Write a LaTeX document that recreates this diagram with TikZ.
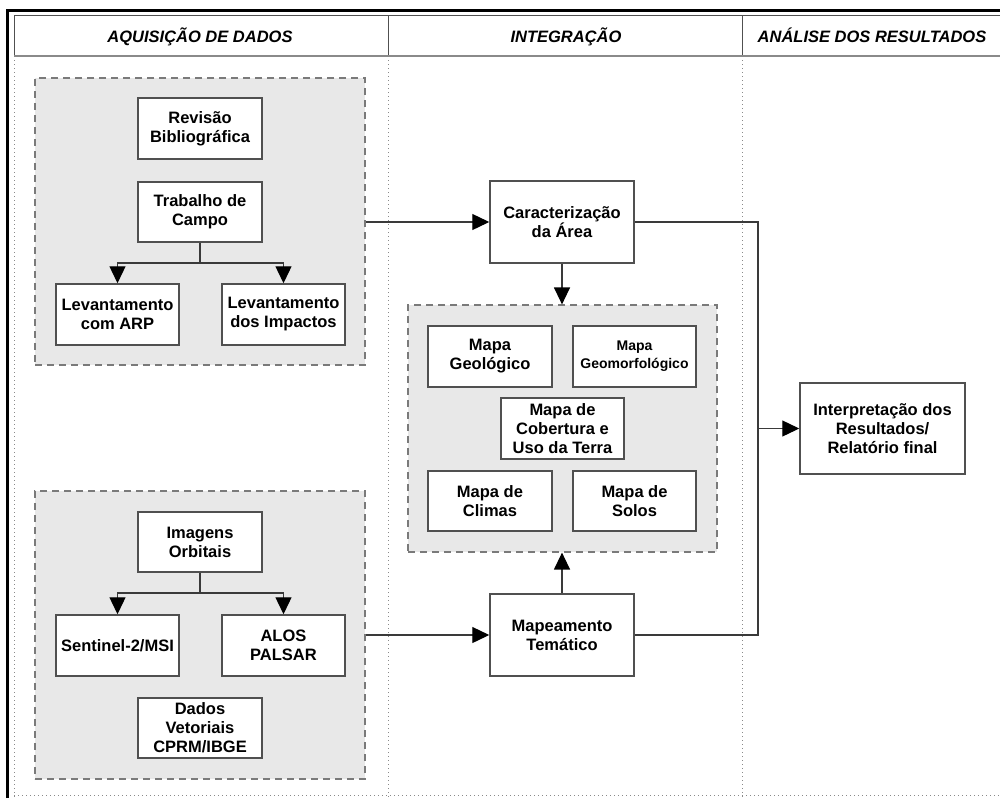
\documentclass[tikz,border=0pt]{standalone}
\usepackage{fontspec}
\setmainfont{Liberation Sans}
\usetikzlibrary{arrows.meta}
\definecolor{grpfill}{HTML}{E8E8E8}
\definecolor{grpline}{HTML}{7A7A7A}
\definecolor{boxline}{HTML}{505050}
\definecolor{conline}{HTML}{3A3A3A}
\definecolor{dotline}{HTML}{8A8A8A}
\newcommand\boxfont{\fontsize{16.5}{19}\selectfont\bfseries}
\newcommand\smallboxfont{\fontsize{14}{18}\selectfont\bfseries}
\newcommand\hdfont{\fontsize{16.5}{19}\selectfont\bfseries\itshape}
\begin{document}
\begin{tikzpicture}[x=1pt,y=-1pt,
  box/.style={draw=boxline, fill=white, line width=1.5pt, align=center, inner sep=0pt, font=\boxfont},
  grp/.style={draw=grpline, fill=grpfill, line width=1.2pt, dash pattern=on 7pt off 5pt, inner sep=0pt},
  wire/.style={draw=conline, line width=1.3pt},
  conn/.style={wire, -{Triangle[length=17pt,width=16pt,color=black]}},
  dotsep/.style={draw=dotline, line width=1pt, dash pattern=on 1pt off 3pt},
  head/.style={font=\hdfont, inner sep=0pt, anchor=base}
]
\useasboundingbox (0,0) rectangle (1000,798);
\fill[white] (0,0) rectangle (1000,798);

% separators (dotted)
\draw[dotsep] (14,56) -- (14,798);
\draw[dotsep] (388,56) -- (388,798);
\draw[dotsep] (742,56) -- (742,798);
\draw[dotsep] (14,795) -- (1000,795);

% header
\draw[boxline, line width=1pt] (14,56) -- (14,15) -- (1000,15);
\draw[boxline, line width=1pt] (388,15) -- (388,56);
\draw[boxline, line width=1pt] (742,15) -- (742,56);
\draw[dotline, line width=2.2pt] (14,56) -- (1000,56);
\draw[black, line width=3pt] (7,798) -- (7,10) -- (1000,10);
\node[head] (hd1) at (200,42) {AQUISIÇÃO DE DADOS};
\node[head] (hd2) at (566,42) {INTEGRAÇÃO};
\node[head] (hd3) at (872,42) {ANÁLISE DOS RESULTADOS};

% groups
\node[grp, minimum width=330pt, minimum height=287pt] (g1) at (200,221.5) {};
\node[grp, minimum width=309pt, minimum height=247pt] (g2) at (562.5,428.5) {};
\node[grp, minimum width=330pt, minimum height=288pt] (g3) at (200,635) {};

% group 1
\node[box, minimum width=124pt, minimum height=61pt] (rev) at (200,128.5) {Revisão\\Bibliográfica};
\node[box, minimum width=124pt, minimum height=60pt] (trab) at (200,212) {Trabalho de\\Campo};
\node[box, minimum width=123pt, minimum height=61pt] (lev1) at (117.5,314.5) {Levantamento\\com ARP};
\node[box, minimum width=123pt, minimum height=61pt] (lev2) at (283.5,314.5) {Levantamento\\dos Impactos};

% group 3
\node[box, minimum width=124pt, minimum height=60pt] (img) at (200,542) {Imagens\\Orbitais};
\node[box, minimum width=123pt, minimum height=61pt] (sen) at (117.5,645.5) {Sentinel-2/MSI};
\node[box, minimum width=123pt, minimum height=61pt] (alos) at (283.5,645.5) {ALOS\\PALSAR};
\node[box, minimum width=124pt, minimum height=60pt] (dad) at (200,728) {Dados\\Vetoriais\\CPRM/IBGE};

% integration column
\node[box, minimum width=144pt, minimum height=82pt] (car) at (562,222) {Caracterização\\da Área};
\node[box, minimum width=144pt, minimum height=82pt] (map) at (562,635) {Mapeamento\\Temático};
\node[box, minimum width=124pt, minimum height=61pt] (geo) at (490,356.5) {Mapa\\Geológico};
\node[box, minimum width=123pt, minimum height=61pt, font=\smallboxfont] (geom) at (634.5,356.5) {Mapa\\Geomorfológico};
\node[box, minimum width=123pt, minimum height=61pt] (cob) at (562.5,428.5) {Mapa de\\Cobertura e\\Uso da Terra};
\node[box, minimum width=124pt, minimum height=60pt] (cli) at (490,501) {Mapa de\\Climas};
\node[box, minimum width=123pt, minimum height=60pt] (sol) at (634.5,501) {Mapa de\\Solos};

% results
\node[box, minimum width=165pt, minimum height=91pt] (int) at (882.5,428.5) {Interpretação dos\\Resultados/\\Relatório final};

% connectors
\coordinate (tsplit) at (200,263);
\draw[wire] (trab.south) -- (tsplit);
\draw[conn] (tsplit) -| (lev1.north);
\draw[conn] (tsplit) -| (lev2.north);

\coordinate (isplit) at (200,593);
\draw[wire] (img.south) -- (isplit);
\draw[conn] (isplit) -| (sen.north);
\draw[conn] (isplit) -| (alos.north);

\draw[conn] (g1.east |- car.west) -- (car.west);
\draw[conn] (g3.east |- map.west) -- (map.west);
\draw[conn] (car.south) -- (g2.north -| car.south);
\draw[conn] (map.north) -- (g2.south -| map.north);

\coordinate (jn) at (758,428.5);
\draw[wire] (car.east) -| (jn) |- (map.east);
\draw[conn] (jn) -- (int.west);
\end{tikzpicture}
\end{document}
